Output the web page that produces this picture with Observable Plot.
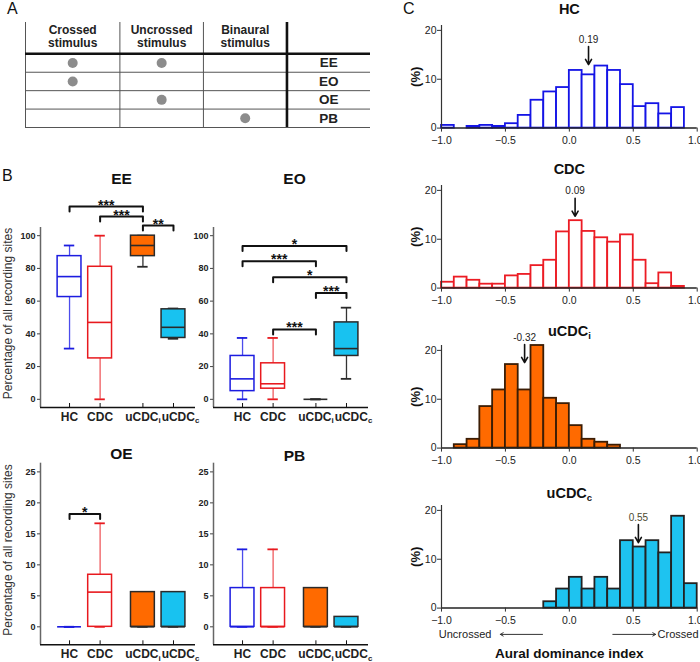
<!DOCTYPE html>
<html><head><meta charset="utf-8">
<script src="https://cdn.jsdelivr.net/npm/d3@7"></script>
<script src="https://cdn.jsdelivr.net/npm/@observablehq/plot@0.6"></script>
<style>
body{margin:0;background:#fff;font-family:"Liberation Sans",Arial,Helvetica,sans-serif;}
#fig{position:relative;width:700px;height:662px;overflow:hidden;background:#fff;}
.panel{position:absolute;}
.panel svg{overflow:visible;}
.letter{position:absolute;font-size:16px;line-height:18px;color:#111;}
</style></head><body><div id="fig"></div>
<script>
// ---------- Panel A data ----------
const stimuli = ["Crossed\nstimulus", "Uncrossed\nstimulus", "Binaural\nstimulus"];
const conditions = ["EE", "EO", "OE", "PB"];
// rows = conditions, columns = stimuli (1 = stimulus used)
const stimulusOn = [[1, 1, 0], [1, 0, 0], [0, 1, 0], [0, 0, 1]];

// ---------- Panel B data ----------
const groups = ["HC", "CDC", "uCDCi", "uCDCc"];
// [min, q1, median, q3, max] per group
const boxEE = [[31, 62.5, 75, 87.5, 94], [0, 25, 47, 81, 100], [81, 87.5, 94, 100, 100], [37, 37.5, 44, 55, 55.5]];
const boxEO = [[0, 5, 12.5, 26.5, 37.5], [0, 6.5, 9.5, 22, 37.5], [0, 0, 0, 0, 0], [12.5, 26.5, 31, 47, 56]];
const boxOE = [[0, 0, 0, 0, 0], [0, 0, 5.6, 8.4, 16.7], [0, 0, 0, 5.6, 5.6], [0, 0, 0, 5.6, 5.6]];
const boxPB = [[0, 0, 0, 6.25, 12.5], [0, 0, 0, 6.25, 12.5], [0, 0, 0, 6.25, 6.25], [0, 0, 0, 1.6, 1.6]];
// [group A, group B, label, bracket level]
const sigEE = [["HC", "uCDCi", "***", 117.8], ["CDC", "uCDCi", "***", 111.7], ["uCDCi", "uCDCc", "**", 106.2]];
const sigEO = [["HC", "uCDCc", "*", 93.7], ["HC", "uCDCi", "***", 84.3], ["CDC", "uCDCc", "*", 74.6], ["uCDCi", "uCDCc", "***", 65], ["CDC", "uCDCi", "***", 42.7]];
const sigOE = [["HC", "CDC", "*", 18.2]];
const sigPB = [];
const ticksTop = [0, 20, 40, 60, 80, 100];
const ticksBottom = [0, 5, 10, 15, 20, 25];

// ---------- Panel C data ----------
const binEdges = [-1.0, -0.9, -0.8, -0.7, -0.6, -0.5, -0.4, -0.3, -0.2, -0.1, 0.0, 0.1, 0.2, 0.3, 0.4, 0.5, 0.6, 0.7, 0.8, 0.9, 1.0];
const histHC = [0.55, 0, 0.35, 0.55, 0.35, 0.9, 2.6, 5.7, 7.4, 8.3, 11.8, 10.9, 12.7, 11.8, 8.9, 4.4, 5.0, 2.9, 4.2, 0];
const histCDC = [1.2, 2.25, 1.6, 0.8, 0.8, 2.5, 2.8, 4.6, 5.7, 11.5, 13.8, 11.6, 10.3, 9.4, 10.9, 5.7, 0.9, 3.1, 0.35, 0];
const histUCDCi = [0, 0.7, 1.8, 8.5, 11.9, 17.1, 11.9, 21.0, 10.2, 9.1, 4.6, 1.8, 1.2, 0.6, 0, 0, 0, 0, 0, 0];
const histUCDCc = [0, 0, 0, 0, 0, 0, 0, 0, 1.3, 3.9, 6.3, 3.9, 6.3, 3.9, 13.8, 12.5, 13.8, 11.3, 18.8, 5.0];
const histTitles = ["HC", "CDC", "uCDCi", "uCDCc"];
const meanLabels = ["0.19", "0.09", "-0.32", "0.55"];
const meanArrowX = [0.15, 0.045, -0.35, 0.54];
const meanArrowTip = [13.0, 14.7, 17.5, 13.4];
const histXTicks = [-1, -0.5, 0, 0.5, 1];
const histYTicks = [0, 10, 20];
const directionLabels = ["Uncrossed", "Crossed"];
const directionLabelX = [-0.61, 0.69];
const directionArrows = [[-0.21, -0.54], [0.34, 0.675]];

// ---------- helpers ----------
const FONT = '"Liberation Sans", Arial, Helvetica, sans-serif';
const baseStyle = {background: "transparent", overflow: "visible", fontFamily: FONT, color: "#111"};
const fig = document.getElementById("fig");

function subscriptify(svg) {
  svg.querySelectorAll("text").forEach(t => {
    const m = /^uCDC([ic])$/.exec(t.textContent);
    if (m && t.children.length === 0) {
      t.textContent = "uCDC";
      const ts = document.createElementNS("http://www.w3.org/2000/svg", "tspan");
      ts.setAttribute("dy", "0.3em");
      ts.setAttribute("font-size", "0.66em");
      ts.textContent = m[1];
      t.appendChild(ts);
    }
  });
}
function place(node, left, top, width) {
  const d = document.createElement("div");
  d.className = "panel";
  d.style.left = left + "px"; d.style.top = top + "px"; d.style.width = width + "px";
  d.appendChild(node);
  fig.appendChild(d);
  subscriptify(node);
}
function letter(t, left, top) {
  const d = document.createElement("div");
  d.className = "letter";
  d.style.left = left + "px"; d.style.top = top + "px";
  d.textContent = t;
  fig.appendChild(d);
}

// ---------- Panel A ----------
const tableX0 = -0.13; // first column a little wider
const colCenter = i => i === 0 ? (tableX0 + 1) / 2 : i + 0.5;
const dots = stimulusOn.flatMap((row, r) => row.map((on, c) => ({r, c, on}))).filter(d => d.on);
const table = Plot.plot({
  width: 380, height: 135,
  marginLeft: 25, marginRight: 10, marginTop: 22, marginBottom: 8,
  x: {domain: [tableX0, 4], axis: null},
  y: {domain: [-1.7, 4], reverse: true, axis: null},
  style: baseStyle,
  marks: [
    Plot.ruleY(conditions.map((c, i) => i + 1), {stroke: "#555", strokeWidth: 1}),
    Plot.ruleX([tableX0, 1, 2], {stroke: "#555", strokeWidth: 1}),
    Plot.ruleX([3], {stroke: "#111", strokeWidth: 2.6}),
    Plot.ruleY([0], {stroke: "#111", strokeWidth: 2.6}),
    Plot.text(stimuli, {x: (d, i) => colCenter(i), y: -0.95, text: d => d, fontWeight: "bold", fontSize: 12, lineHeight: 1.05, fill: "#222"}),
    Plot.text(conditions, {x: 3.5, y: (d, i) => i + 0.5, text: d => d, fontWeight: "bold", fontSize: 13.5, fill: "#222"}),
    Plot.dot(dots, {x: d => colCenter(d.c), y: d => d.r + 0.5, r: 5, fill: "#8c8c8c", stroke: "none"})
  ]
});
place(table, 0, 0, 380);
letter("A", 7, 0);

// ---------- Panel B ----------
const groupGap = 0.4;
const gpos = g => { const i = groups.indexOf(g); return i + (i >= 2 ? groupGap : 0); };
const groupStroke = {HC: "#1c1ce0", CDC: "#e8191e", uCDCi: "#2a2a2a", uCDCc: "#2a2a2a"};
const whiskerStroke = {HC: "#4c4cec", CDC: "#ef5a5e", uCDCi: "#333", uCDCc: "#333"};
const groupFill = {HC: "#ffffff", CDC: "#ffffff", uCDCi: "#ff6a00", uCDCc: "#18c2f0"};

function boxPanel({title, boxes, sigs, yDomain, yTicks, width, height, marginTop, marginBottom, titleDy, yLabel}) {
  const xDomain = [-0.95, 4.12];
  const frameW = 155;
  const frameH = height - marginTop - marginBottom;
  const ppu = frameH / (yDomain[1] - yDomain[0]);
  const rows = groups.map((g, i) => ({g, x: gpos(g), min: boxes[i][0], q1: boxes[i][1], med: boxes[i][2], q3: boxes[i][3], max: boxes[i][4]}));
  const hb = 0.39, hc = 0.17, tip = 5 / ppu;
  const bracketPts = sigs.flatMap(([a, b, , y], k) => [
    {k, x: gpos(a), y: y - tip}, {k, x: gpos(a), y}, {k, x: gpos(b), y}, {k, x: gpos(b), y: y - tip}]);
  const tickPos = groups.map(gpos);
  const labelOf = v => groups[tickPos.indexOf(v)];
  const marks = [
    Plot.ruleX([xDomain[0]], {stroke: "#666", strokeWidth: 1.5}),
    Plot.ruleY([yDomain[0]], {stroke: "#111", strokeWidth: 1.5}),
    Plot.ruleX(tickPos, {x: d => d, y1: yDomain[0], y2: yDomain[0] + 4 / ppu, stroke: "#111", strokeWidth: 1}),
    Plot.axisY({ticks: yTicks, tickSize: 3, tickPadding: 2, fontSize: 9, fontWeight: "bold", label: null, stroke: "#444", fill: "#222"}),
    Plot.axisX({ticks: tickPos.slice(0, 3), tickFormat: labelOf, tickSize: 0, tickPadding: 5, fontSize: 12, fontWeight: "bold", label: null, fill: "#222"}),
    Plot.axisX({ticks: tickPos.slice(3), tickFormat: labelOf, tickSize: 0, tickPadding: 5, dx: 7, fontSize: 12, fontWeight: "bold", label: null, fill: "#222"}),
    Plot.ruleX(rows, {x: "x", y1: "min", y2: "max", stroke: d => whiskerStroke[d.g], strokeWidth: 1.3}),
    Plot.ruleY(rows, {x1: d => d.x - hc, x2: d => d.x + hc, y: "min", stroke: d => groupStroke[d.g], strokeWidth: 1.8}),
    Plot.ruleY(rows, {x1: d => d.x - hc, x2: d => d.x + hc, y: "max", stroke: d => groupStroke[d.g], strokeWidth: 1.8}),
    Plot.rect(rows, {x1: d => d.x - hb, x2: d => d.x + hb, y1: "q1", y2: "q3", fill: d => groupFill[d.g], stroke: d => groupStroke[d.g], strokeWidth: 1.5}),
    Plot.ruleY(rows, {x1: d => d.x - hb, x2: d => d.x + hb, y: "med", stroke: d => groupStroke[d.g], strokeWidth: 1.6}),
    Plot.line(bracketPts, {x: "x", y: "y", z: "k", stroke: "#111", strokeWidth: 2, curve: "linear"}),
    Plot.text(sigs, {x: d => (gpos(d[0]) + gpos(d[1])) / 2, y: d => d[3], text: d => d[2], dy: -1.5, fontSize: 14, fontWeight: "bold", fill: "#111"}),
    Plot.text([title], {x: (gpos(groups[0]) + gpos(groups[3])) / 2, frameAnchor: "top", lineAnchor: "middle", dy: titleDy, text: d => d, fontSize: 15.5, fontWeight: "bold", fill: "#111"})
  ];
  if (yLabel) marks.push(Plot.text([yLabel], {frameAnchor: "left", textAnchor: "middle", rotate: -90, dx: -32, dy: -4, text: d => d, fontSize: 12, fill: "#333"}));
  return Plot.plot({
    width, height, marginLeft: 40, marginRight: width - 40 - frameW, marginTop, marginBottom,
    x: {domain: xDomain},
    y: {domain: yDomain},
    style: baseStyle,
    marks
  });
}
const yLabelText = "Percentage of all recording sites";
place(boxPanel({title: "EE", boxes: boxEE, sigs: sigEE, yDomain: [-5, 105], yTicks: ticksTop, width: 195, height: 265, marginTop: 67, marginBottom: 18, titleDy: -48, yLabel: yLabelText}), 0, 160, 195);
place(boxPanel({title: "EO", boxes: boxEO, sigs: sigEO, yDomain: [-5, 105], yTicks: ticksTop, width: 197, height: 265, marginTop: 67, marginBottom: 18, titleDy: -48}), 173, 160, 197);
place(boxPanel({title: "OE", boxes: boxOE, sigs: sigOE, yDomain: [-2.9, 26.4], yTicks: ticksBottom, width: 195, height: 222, marginTop: 22.7, marginBottom: 17.7, titleDy: -9, yLabel: yLabelText}), 0, 440, 195);
place(boxPanel({title: "PB", boxes: boxPB, sigs: sigPB, yDomain: [-2.9, 26.4], yTicks: ticksBottom, width: 197, height: 222, marginTop: 22.7, marginBottom: 17.7, titleDy: -7}), 173, 440, 197);
letter("B", 2, 167);

// ---------- Panel C ----------
const histStyle = [
  {fill: "#ffffff", stroke: "#1414e6"},
  {fill: "#ffffff", stroke: "#ec1c24"},
  {fill: "#ff6a00", stroke: "#3b1d05"},
  {fill: "#1ec3f0", stroke: "#222222"}
];
const histValues = [histHC, histCDC, histUCDCi, histUCDCc];
const histTitleDy = [-16, -16, -14, -12];

function histPanel(i, height, marginBottom, last) {
  const mT = 25;
  const frameH = height - mT - marginBottom;
  const ppu = frameH / 21;
  const bins = histValues[i].map((v, j) => ({x1: binEdges[j], x2: binEdges[j + 1], v}));
  const arrowLen = 18 / ppu;
  const nT = histXTicks.length;
  const marks = [
    Plot.rectY(bins, {x1: "x1", x2: "x2", y1: 0, y2: "v", fill: histStyle[i].fill, stroke: histStyle[i].stroke, strokeWidth: 1.8}),
    Plot.ruleX([-1], {stroke: "#333", strokeWidth: 1.2}),
    Plot.ruleY([0], {stroke: "#222", strokeWidth: 1.5}),
    Plot.axisX({ticks: histXTicks, tickSize: 4, tickPadding: 4, tickFormat: () => "", label: null, stroke: "#333"}),
    Plot.axisX({ticks: histXTicks.slice(0, nT - 1), tickSize: 0, tickPadding: 8, fontSize: 10.5, label: null, fill: "#222"}),
    Plot.axisX({ticks: histXTicks.slice(nT - 1), tickSize: 0, tickPadding: 8, dx: -2, fontSize: 10.5, label: null, fill: "#222"}),
    Plot.axisY({ticks: histYTicks, tickSize: 4, tickPadding: 1, fontSize: 10.5, label: null, stroke: "#333", fill: "#222"}),
    Plot.text(["(%)"], {frameAnchor: "left", textAnchor: "middle", rotate: -90, dx: -26, text: d => d, fontSize: 13, fontWeight: "bold", fill: "#111"}),
    Plot.text([histTitles[i]], {frameAnchor: "top", lineAnchor: "middle", dy: histTitleDy[i], text: d => d, fontSize: 14.5, fontWeight: "bold", fill: "#111"}),
    Plot.arrow([meanArrowX[i]], {x1: d => d, x2: d => d, y1: meanArrowTip[i] + arrowLen, y2: meanArrowTip[i], stroke: "#111", strokeWidth: 1.6, headLength: 6}),
    Plot.text([meanLabels[i]], {x: meanArrowX[i], y: meanArrowTip[i] + arrowLen, dy: -7, text: d => d, fontSize: 10, fill: i === 3 ? "#4a4a30" : "#222"})
  ];
  if (last) {
    const yAnn = -26.3 / ppu;
    marks.push(
      Plot.arrow(directionArrows, {x1: d => d[0], x2: d => d[1], y1: yAnn, y2: yAnn, stroke: "#333", strokeWidth: 1, headLength: 5}),
      Plot.text([directionLabels[0]], {x: directionLabelX[0], frameAnchor: "bottom", lineAnchor: "middle", dy: 26.3, text: d => d, textAnchor: "end", fontSize: 11, fill: "#222"}),
      Plot.text([directionLabels[1]], {x: directionLabelX[1], frameAnchor: "bottom", lineAnchor: "middle", dy: 26.3, text: d => d, textAnchor: "start", fontSize: 11, fill: "#222"}),
      Plot.text(["Aural dominance index"], {frameAnchor: "bottom", lineAnchor: "middle", dy: 45.5, text: d => d, fontSize: 13.5, fontWeight: "bold", fill: "#111"})
    );
  }
  return Plot.plot({
    width: 300, height, marginLeft: 41, marginRight: 3.3, marginTop: mT, marginBottom,
    x: {domain: [-1, 1]},
    y: {domain: [0, 21]},
    style: baseStyle,
    marks
  });
}
place(histPanel(0, 150, 22.4, false), 400, 0, 300);
place(histPanel(1, 150, 22.4, false), 400, 160, 300);
place(histPanel(2, 150, 22.4, false), 400, 320, 300);
place(histPanel(3, 182, 54.4, true), 400, 480, 300);
letter("C", 403, 0);
</script></body></html>
